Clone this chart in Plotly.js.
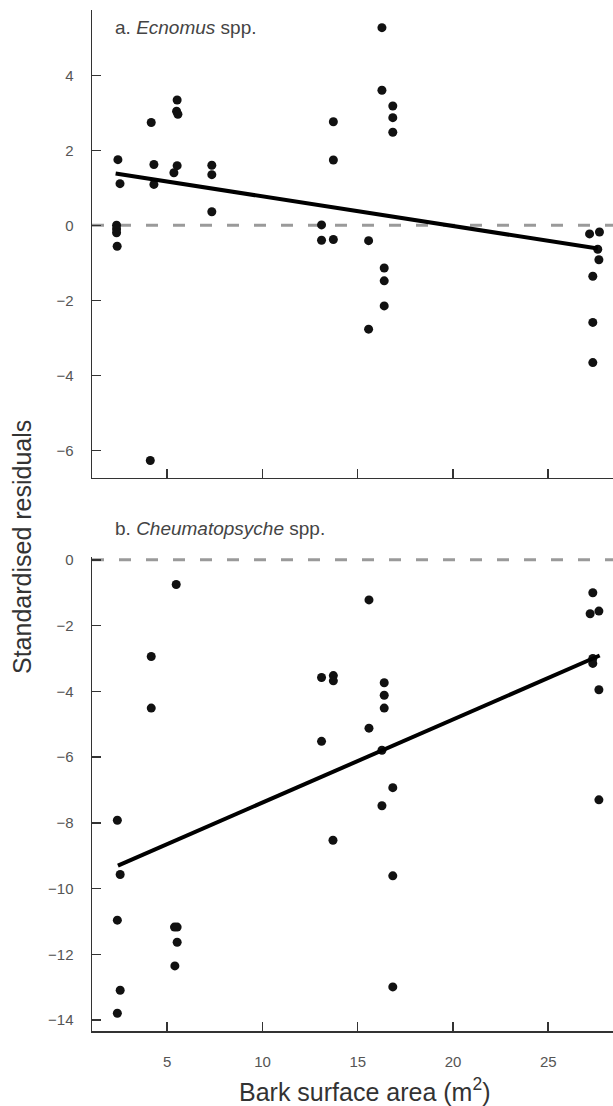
<!DOCTYPE html>
<html>
<head>
<meta charset="utf-8">
<script src="https://cdn.plot.ly/plotly-3.0.1.min.js"></script>
<style>html,body{margin:0;padding:0;background:#fff;}#chart{width:613px;height:1106px;}</style>
</head>
<body>
<div id="chart"></div>
<script>
// Panel a: Ecnomus spp.
const ecnomusX = [2.34, 2.34, 2.34, 2.37, 2.41, 2.52, 4.16, 4.30, 4.30, 4.11, 5.52, 5.49, 5.56, 5.52, 5.35, 7.34, 7.34, 7.34, 13.10, 13.10, 13.72, 13.72, 13.72, 15.57, 15.57, 16.27, 16.27, 16.84, 16.84, 16.84, 16.39, 16.39, 16.39, 27.17, 27.69, 27.60, 27.66, 27.34, 27.34, 27.34];
const ecnomusY = [0.00, -0.10, -0.20, -0.56, 1.75, 1.11, 2.74, 1.62, 1.09, -6.27, 3.34, 3.04, 2.96, 1.59, 1.40, 1.60, 1.35, 0.36, 0.01, -0.40, -0.38, 2.76, 1.74, -0.41, -2.77, 5.27, 3.60, 3.18, 2.87, 2.48, -1.14, -1.48, -2.15, -0.23, -0.18, -0.64, -0.92, -1.36, -2.59, -3.66];
const ecnomusFitX = [2.29, 27.6];
const ecnomusFitY = [1.38, -0.62];

// Panel b: Cheumatopsyche spp.
const cheumX = [5.47, 4.16, 4.16, 2.38, 2.53, 2.38, 2.53, 2.38, 5.38, 5.52, 5.52, 5.40, 13.10, 13.72, 13.72, 13.10, 13.70, 15.59, 15.59, 16.39, 16.39, 16.39, 16.27, 16.27, 16.84, 16.84, 16.84, 27.34, 27.20, 27.66, 27.34, 27.34, 27.66, 27.66];
const cheumY = [-0.75, -2.94, -4.51, -7.92, -9.57, -10.96, -13.09, -13.79, -11.17, -11.17, -11.63, -12.35, -3.58, -3.52, -3.68, -5.52, -8.53, -1.22, -5.12, -3.74, -4.12, -4.51, -5.79, -7.48, -6.93, -9.61, -12.99, -1.00, -1.64, -1.56, -3.00, -3.15, -3.95, -7.30];
const cheumFitX = [2.41, 27.7];
const cheumFitY = [-9.30, -2.91];

const refLevel = 0;
const xTickVals = [5, 10, 15, 20, 25];
const yTicksA = [-6, -4, -2, 0, 2, 4];
const yTicksB = [-14, -12, -10, -8, -6, -4, -2, 0];
const labelA = "a. <i>Ecnomus</i> spp.";
const labelB = "b. <i>Cheumatopsyche</i> spp.";
const xTitle = "Bark surface area (m<sup>2</sup>)";
const yTitle = "Standardised residuals";

const FONT = "Liberation Sans, Arial, Helvetica, sans-serif";
const pts = {mode: 'markers', marker: {color: '#111', size: 9}, hoverinfo: 'skip', showlegend: false};
const fit = {mode: 'lines', line: {color: '#000', width: 4}, hoverinfo: 'skip', showlegend: false};

const data = [
  Object.assign({x: ecnomusX, y: ecnomusY, xaxis: 'x', yaxis: 'y'}, pts),
  Object.assign({x: ecnomusFitX, y: ecnomusFitY, xaxis: 'x', yaxis: 'y'}, fit),
  Object.assign({x: cheumX, y: cheumY, xaxis: 'x2', yaxis: 'y2'}, pts),
  Object.assign({x: cheumFitX, y: cheumFitY, xaxis: 'x2', yaxis: 'y2'}, fit)
];

const axCommon = {
  showgrid: false, zeroline: false, showline: true, linecolor: '#333', linewidth: 1.5,
  ticks: 'inside', ticklen: 9, tickwidth: 1.5, tickcolor: '#333',
  tickfont: {family: FONT, size: 15, color: '#555'}
};
const xRange = [1.05, 28.4];

const layout = {
  width: 613, height: 1106,
  margin: {l: 92, r: 0, t: 10, b: 75},
  paper_bgcolor: '#fff', plot_bgcolor: '#fff',
  font: {family: FONT, color: '#333'},
  showlegend: false,
  xaxis: Object.assign({}, axCommon, {anchor: 'y', range: xRange, tickvals: xTickVals, showticklabels: false}),
  yaxis: Object.assign({}, axCommon, {domain: [0.5419, 1], range: [-6.73, 5.74], tickvals: yTicksA, ticklabelstandoff: 14}),
  xaxis2: Object.assign({}, axCommon, {anchor: 'y2', range: xRange, tickvals: xTickVals, ticklabelstandoff: 16}),
  yaxis2: Object.assign({}, axCommon, {domain: [0, 0.4647], range: [-14.33, 0.1], tickvals: yTicksB, ticklabelstandoff: 14}),
  shapes: [
    {type: 'line', xref: 'x', yref: 'y', x0: xRange[0], x1: xRange[1], y0: refLevel, y1: refLevel, line: {color: '#9a9a9a', width: 3, dash: '12px,15px'}, layer: 'below'},
    {type: 'line', xref: 'x2', yref: 'y2', x0: xRange[0], x1: xRange[1], y0: refLevel, y1: refLevel, line: {color: '#9a9a9a', width: 3, dash: '12px,15px'}, layer: 'below'}
  ],
  annotations: [
    {text: labelA, xref: 'paper', yref: 'paper', x: (113 - 92) / 521, y: (1031 - 28) / 1021, xanchor: 'left', yanchor: 'middle', showarrow: false, font: {family: FONT, size: 19, color: '#444'}},
    {text: labelB, xref: 'paper', yref: 'paper', x: (113 - 92) / 521, y: (1031 - 528) / 1021, xanchor: 'left', yanchor: 'middle', showarrow: false, font: {family: FONT, size: 19, color: '#444'}},
    {text: xTitle, xref: 'paper', yref: 'paper', x: (364 - 92) / 521, y: (1031 - 1090) / 1021, xanchor: 'center', yanchor: 'middle', showarrow: false, font: {family: FONT, size: 25, color: '#333'}},
    {text: yTitle, xref: 'paper', yref: 'paper', x: (22 - 92) / 521, y: (1031 - 547) / 1021, xanchor: 'center', yanchor: 'middle', textangle: -90, showarrow: false, font: {family: FONT, size: 25, color: '#333'}}
  ]
};

Plotly.newPlot('chart', data, layout, {staticPlot: true, displayModeBar: false});
</script>
</body>
</html>
